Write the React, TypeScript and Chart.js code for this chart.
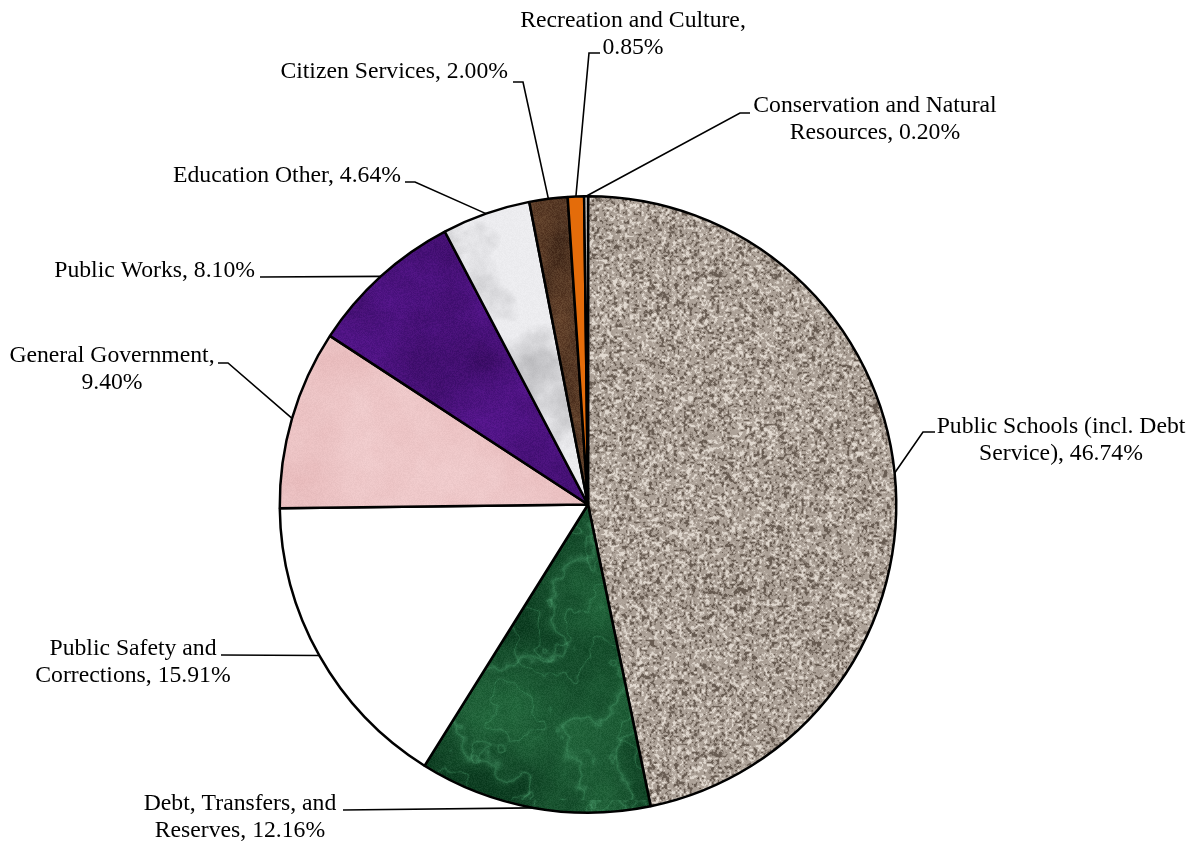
import React, { useEffect, useRef } from "react";
import { Chart, registerables } from "chart.js";

Chart.register(...registerables);

// ---------------- DATA ----------------
const categories: string[] = [
  "Public Schools (incl. Debt Service)",
  "Debt, Transfers, and Reserves",
  "Public Safety and Corrections",
  "General Government",
  "Public Works",
  "Education Other",
  "Citizen Services",
  "Recreation and Culture",
  "Conservation and Natural Resources",
];
const shares: number[] = [46.74, 12.16, 15.91, 9.4, 8.1, 4.64, 2.0, 0.85, 0.2];
// number of words on the first label line (0 = single line)
const labelBreaks: number[] = [4, 3, 3, 2, 0, 0, 0, 3, 3];

// ---------------- LABEL PLACEMENT (annotation layout) ----------------
type Place = { x: number; y: number; align: CanvasTextAlign; path: number[][] };
const labelPlacement: Place[] = [
  { x: 1061, y: 433, align: "center", path: [[923, 432], [935, 432]] },
  { x: 240, y: 810, align: "center", path: [[343, 810]] },
  { x: 133, y: 655, align: "center", path: [[221, 655]] },
  { x: 112, y: 362, align: "center", path: [[228, 363], [218, 363]] },
  { x: 255, y: 277, align: "right", path: [[260, 277]] },
  { x: 401, y: 182, align: "right", path: [[415, 182], [405, 182]] },
  { x: 508, y: 78, align: "right", path: [[523, 82], [513, 82]] },
  { x: 633, y: 27, align: "center", path: [[589, 53], [600, 53]] },
  { x: 875, y: 112, align: "center", path: [[740, 113], [750, 113]] },
];
const FONT = '23.7px "Liberation Serif", "Times New Roman", serif';
const LINE_H = 27;

// ---------------- TEXTURES ----------------
function rng(seed: number) {
  return function () {
    seed |= 0;
    seed = (seed + 0x6d2b79f5) | 0;
    let t = Math.imul(seed ^ (seed >>> 15), 1 | seed);
    t = (t + Math.imul(t ^ (t >>> 7), 61 | t)) ^ t;
    return ((t ^ (t >>> 14)) >>> 0) / 4294967296;
  };
}

function makeValueNoise(rand: () => number, period: number) {
  const g = new Float32Array(period * period);
  for (let i = 0; i < g.length; i++) g[i] = rand();
  return (x: number, y: number) => {
    const xi = Math.floor(x), yi = Math.floor(y);
    const xf = x - xi, yf = y - yi;
    const u = xf * xf * (3 - 2 * xf), v = yf * yf * (3 - 2 * yf);
    const x0 = ((xi % period) + period) % period, y0 = ((yi % period) + period) % period;
    const x1 = (x0 + 1) % period, y1 = (y0 + 1) % period;
    const a = g[y0 * period + x0], b = g[y0 * period + x1];
    const c = g[y1 * period + x0], d = g[y1 * period + x1];
    return a + (b - a) * u + (c - a) * v + (a - b - c + d) * u * v;
  };
}

function makeFbm(seed: number, size: number, baseCells: number, octaves: number) {
  const rand = rng(seed);
  const layers: ((x: number, y: number) => number)[] = [];
  for (let o = 0; o < octaves; o++) layers.push(makeValueNoise(rand, baseCells << o));
  return (px: number, py: number) => {
    let sum = 0, amp = 1, norm = 0;
    for (let o = 0; o < octaves; o++) {
      const cells = baseCells << o;
      sum += amp * layers[o]((px / size) * cells, (py / size) * cells);
      norm += amp;
      amp *= 0.55;
    }
    return sum / norm;
  };
}

type Shade = (x: number, y: number, r: () => number) => [number, number, number];

function makeTile(size: number, shade: Shade, seed: number) {
  const c = document.createElement("canvas");
  c.width = size;
  c.height = size;
  const cctx = c.getContext("2d")!;
  const img = cctx.createImageData(size, size);
  const r = rng(seed);
  for (let y = 0; y < size; y++) {
    for (let x = 0; x < size; x++) {
      const [cr, cg, cb] = shade(x, y, r);
      const i = (y * size + x) * 4;
      img.data[i] = cr;
      img.data[i + 1] = cg;
      img.data[i + 2] = cb;
      img.data[i + 3] = 255;
    }
  }
  cctx.putImageData(img, 0, 0);
  return c;
}

const clamp = (v: number) => Math.max(0, Math.min(255, v));
const mix = (a: number[], b: number[], t: number): [number, number, number] => [
  clamp(a[0] + (b[0] - a[0]) * t),
  clamp(a[1] + (b[1] - a[1]) * t),
  clamp(a[2] + (b[2] - a[2]) * t),
];
const smooth = (e0: number, e1: number, v: number) => {
  const t = Math.max(0, Math.min(1, (v - e0) / (e1 - e0)));
  return t * t * (3 - 2 * t);
};

function buildPatterns(ctx: CanvasRenderingContext2D) {
  // granite: fine tileable speckle noise
  const GS = 480;
  const gr = rng(101);
  const n1 = makeValueNoise(gr, 240);
  const n2 = makeValueNoise(gr, 192);
  const gf = makeFbm(11, GS, 4, 3);
  const granite = makeTile(GS, (x, y, r) => {
    const a = n1((x / GS) * 240, (y / GS) * 240);
    const b = n2((x / GS) * 192, (y / GS) * 192);
    const v = a * 0.55 + b * 0.45 + (r() - 0.5) * 0.14;
    const lo = (gf(x, y) - 0.5) * 16;
    const dark = smooth(0.44, 0.24, v);
    const light = smooth(0.56, 0.76, v);
    let c = mix([172, 161, 151], [104, 92, 82], dark);
    c = mix(c, [224, 216, 207], light);
    return [clamp(c[0] + lo), clamp(c[1] + lo), clamp(c[2] + lo)];
  }, 5);

  // green marble
  const mf = makeFbm(23, 400, 4, 5);
  const mf2 = makeFbm(29, 400, 8, 4);
  const green = makeTile(400, (x, y, r) => {
    const t = mf(x, y);
    const t2 = mf2(x, y);
    let base = mix([14, 62, 34], [38, 108, 64], Math.min(1, Math.max(0, (t - 0.3) * 1.8)));
    const vein1 = Math.pow(1 - Math.abs(Math.sin(x * 0.018 + y * 0.01 + t * 9)), 7);
    const vein2 = Math.pow(1 - Math.abs(Math.sin(x * 0.006 - y * 0.02 + t2 * 11)), 9);
    const vein = Math.min(1, vein1 * 0.7 + vein2 * 0.6);
    base = mix(base, [80, 165, 115], vein * 0.6);
    const n = (r() - 0.5) * 16;
    return [clamp(base[0] + n), clamp(base[1] + n), clamp(base[2] + n)];
  }, 7);

  // pink
  const pf = makeFbm(31, 300, 5, 4);
  const pink = makeTile(300, (x, y, r) => {
    const t = pf(x, y) - 0.5;
    const n = (r() - 0.5) * 8;
    return [clamp(236 + t * 14 + n), clamp(196 + t * 30 + n), clamp(197 + t * 30 + n)];
  }, 13);

  // purple
  const uf = makeFbm(41, 300, 5, 4);
  const purple = makeTile(300, (x, y, r) => {
    const t = uf(x, y) - 0.5;
    const n = (r() - 0.5) * 16;
    return [clamp(74 + t * 40 + n), clamp(18 + t * 14 + n * 0.4), clamp(124 + t * 60 + n)];
  }, 17);

  // white marble
  const wf = makeFbm(53, 300, 5, 5);
  const white = makeTile(300, (x, y, r) => {
    const t = wf(x, y);
    const d = Math.max(0, t - 0.52) * 2.4;
    const n = (r() - 0.5) * 6;
    const v = 236 - d * 60 + n;
    return [clamp(v), clamp(v), clamp(v + 3)];
  }, 19);

  // brown
  const bf = makeFbm(67, 200, 5, 4);
  const brown = makeTile(200, (x, y, r) => {
    const t = bf(x, y) - 0.5;
    const n = (r() - 0.5) * 22;
    return [clamp(88 + t * 60 + n), clamp(58 + t * 44 + n), clamp(38 + t * 30 + n * 0.8)];
  }, 23);

  // light gray (conservation)
  const gray = makeTile(100, (x, y, r) => {
    const n = (r() - 0.5) * 20;
    return [clamp(228 + n), clamp(226 + n), clamp(222 + n)];
  }, 29);

  const p = (c: HTMLCanvasElement) => ctx.createPattern(c, "repeat")!;
  return [p(granite), p(green), "#ffffff", p(pink), p(purple), p(white), p(brown), "#e46c0a", p(gray)];
}

function labelText(i: number): string[] {
  const full = `${categories[i]}, ${shares[i].toFixed(2)}%`;
  const words = full.split(" ");
  const b = labelBreaks[i];
  if (!b) return [full];
  return [words.slice(0, b).join(" "), words.slice(b).join(" ")];
}

const leaderPlugin = {
  id: "leaderLabels",
  afterDatasetsDraw(chart: any) {
    const ctx: CanvasRenderingContext2D = chart.ctx;
    const meta = chart.getDatasetMeta(0);
    ctx.save();
    ctx.strokeStyle = "#000";
    ctx.lineWidth = 1.6;
    ctx.fillStyle = "#000";
    ctx.font = FONT;
    ctx.textBaseline = "alphabetic";
    meta.data.forEach((arc: any, i: number) => {
      const pl = labelPlacement[i];
      if (!pl) return;
      const { x, y, startAngle, endAngle, outerRadius } = arc.getProps(
        ["x", "y", "startAngle", "endAngle", "outerRadius"],
        true
      );
      const mid = (startAngle + endAngle) / 2;
      const sx = x + Math.cos(mid) * outerRadius;
      const sy = y + Math.sin(mid) * outerRadius;
      ctx.beginPath();
      ctx.moveTo(sx, sy);
      pl.path.forEach((pt) => ctx.lineTo(pt[0], pt[1]));
      ctx.stroke();
      ctx.textAlign = pl.align;
      labelText(i).forEach((ln, k) => ctx.fillText(ln, pl.x, pl.y + k * LINE_H));
    });
    ctx.restore();
  },
};

export default function App() {
  const ref = useRef<HTMLCanvasElement | null>(null);
  useEffect(() => {
    const canvas = ref.current!;
    const ctx = canvas.getContext("2d")!;
    const fills = buildPatterns(ctx);
    const chart = new Chart(canvas, {
      type: "pie",
      data: {
        labels: categories,
        datasets: [
          {
            data: shares,
            backgroundColor: fills as any,
            borderColor: "#000000",
            borderWidth: 2.5,
          },
        ],
      },
      options: {
        animation: false,
        responsive: false,
        maintainAspectRatio: false,
        devicePixelRatio: 1,
        layout: { padding: { left: 278, right: 299, top: 195, bottom: 29 } },
        plugins: {
          legend: { display: false },
          tooltip: { enabled: false },
        },
      },
      plugins: [leaderPlugin],
    });
    return () => chart.destroy();
  }, []);
  return (
    <div style={{ position: "fixed", left: 0, top: 0, width: 1197, height: 843, background: "#fff" }}>
      <canvas ref={ref} width={1197} height={843} style={{ display: "block" }} />
    </div>
  );
}
